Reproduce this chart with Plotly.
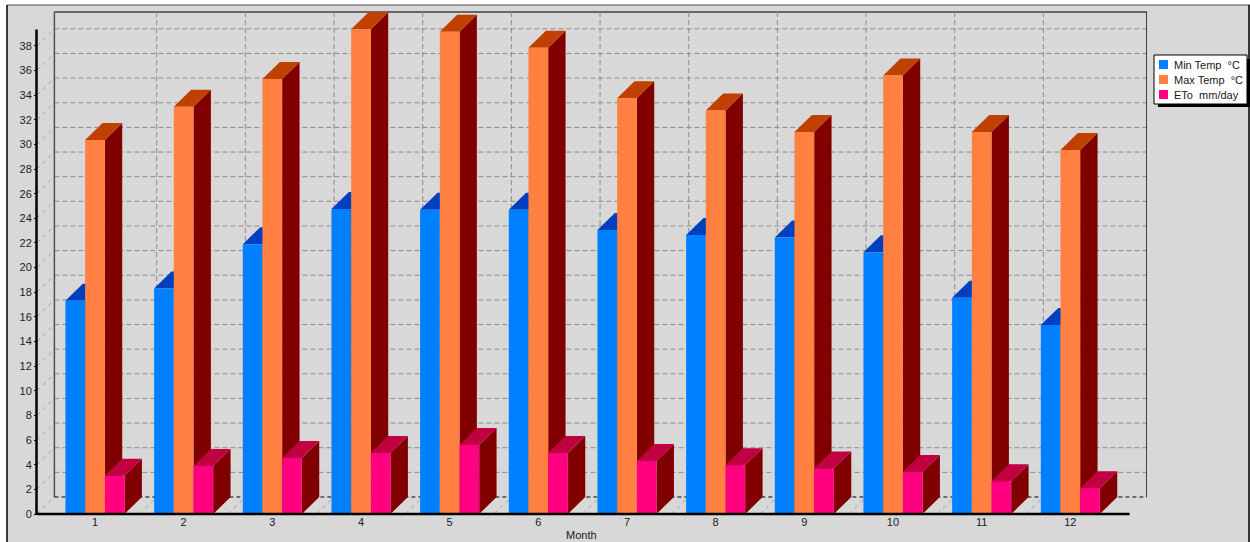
import plotly.graph_objects as go

months = list(range(1, 13))
min_temp = [17.3, 18.3, 21.9, 24.75, 24.7, 24.7, 23.05, 22.65, 22.45, 21.25, 17.55, 15.35]
max_temp = [30.35, 33.05, 35.3, 39.35, 39.15, 37.85, 33.75, 32.75, 31.0, 35.6, 31.0, 29.55]
eto = [3.1, 3.9, 4.55, 4.95, 5.6, 4.95, 4.3, 3.95, 3.7, 3.4, 2.65, 2.1]

series_names = ["Min Temp  °C", "Max Temp  °C", "ETo  mm/day"]
series_values = [min_temp, max_temp, eto]
front_colors = ["#0080FF", "#FF8040", "#FF0080"]
top_colors = ["#0040C0", "#C04000", "#C00040"]
side_color = "#800000"
y_ticks = list(range(0, 40, 2))

W, H = 1250, 542
BG = "#D8D8D8"
TEXT = "#202020"
FONT = "Liberation Sans"


def fx(px):
    return px / W


def fy(py):
    return 1 - py / H


# Pixel scale of the category and value axes, and the pseudo-3D depth offset.
CAT_STEP = 88.7
UNIT = 12.32
DX = 17.4 / CAT_STEP
DY = 17.0 / UNIT
BAR_W = 19.7 / CAT_STEP

X_FRONT_L = 1 + (37 - 95) / CAT_STEP
X_FRONT_R = 1 + (1130 - 95) / CAT_STEP
X_RANGE = [X_FRONT_L, X_FRONT_R + DX]
Y_TOP = (514 - 12) / UNIT
Y_RANGE = [0, Y_TOP]

fig = go.Figure()

# Side and top faces of every bar, built from the same values as the bars.
for s, values in enumerate(series_values):
    side_x, side_y, top_x, top_y = [], [], [], []
    for m, v in zip(months, values):
        x0 = m + (s - 1.5) * BAR_W
        x1 = x0 + BAR_W
        side_x += [x1, x1 + DX, x1 + DX, x1, x1, None]
        side_y += [0, DY, v + DY, v, 0, None]
        top_x += [x0, x1, x1 + DX, x0 + DX, x0, None]
        top_y += [v, v, v + DY, v + DY, v, None]
    for xs, ys, color in ((side_x, side_y, side_color), (top_x, top_y, top_colors[s])):
        fig.add_trace(go.Scatter(
            x=xs, y=ys, mode="lines", fill="toself", fillcolor=color,
            line=dict(width=0, color=color), hoverinfo="skip", showlegend=False,
        ))

# Front faces sit on an overlaid axis pair so they stay above the side faces.
for name, values, color in zip(series_names, series_values, front_colors):
    fig.add_trace(go.Bar(
        x=months, y=values, name=name, marker=dict(color=color, line=dict(width=0)),
        xaxis="x2", yaxis="y2", showlegend=False,
    ))

shapes = [
    dict(type="rect", xref="paper", yref="paper", x0=fx(7), x1=fx(W), y0=0, y1=fy(5),
         fillcolor=BG, line=dict(width=0), layer="below"),
    dict(type="line", xref="paper", yref="paper", x0=fx(7), x1=fx(W), y0=fy(5), y1=fy(5),
         line=dict(color="#808080", width=1.5), layer="below"),
    dict(type="line", xref="paper", yref="paper", x0=fx(7), x1=fx(7), y0=0, y1=fy(5),
         line=dict(color="#000000", width=1.5), layer="below"),
    dict(type="line", xref="paper", yref="paper", x0=fx(1249), x1=fx(1249), y0=0, y1=fy(5),
         line=dict(color="#000000", width=1.5), layer="below"),
]

grid = dict(color="#8C8C8C", width=1, dash="5px,3px")
wall = dict(color="#A0A0A0", width=1, dash="4px,4px")

# Back wall and left wall gridlines.
for v in y_ticks[1:]:
    shapes.append(dict(type="line", x0=X_FRONT_L + DX, x1=X_FRONT_R + DX, y0=v + DY, y1=v + DY,
                       line=grid, layer="below"))
    shapes.append(dict(type="line", x0=X_FRONT_L, x1=X_FRONT_L + DX, y0=v, y1=v + DY,
                       line=wall, layer="below"))

# Back wall and floor dividers between the months.
for m in months[:-1]:
    x = m + 0.5
    shapes.append(dict(type="line", x0=x + DX, x1=x + DX, y0=DY, y1=Y_TOP,
                       line=grid, layer="below"))
    shapes.append(dict(type="line", x0=x, x1=x + DX, y0=0, y1=DY, line=wall, layer="below"))
shapes.append(dict(type="line", x0=X_FRONT_L, x1=X_FRONT_L + DX, y0=0, y1=DY,
                   line=wall, layer="below"))

# Frame of the back wall.
shapes += [
    dict(type="line", x0=X_FRONT_L + DX, x1=X_FRONT_L + DX, y0=DY, y1=Y_TOP,
         line=dict(color="#505050", width=1.5), layer="below"),
    dict(type="line", xref="x", yref="paper", x0=X_FRONT_L + DX, x1=X_FRONT_R + DX,
         y0=fy(12), y1=fy(12), line=dict(color="#404040", width=1.5), layer="below"),
    dict(type="line", x0=X_FRONT_R + DX, x1=X_FRONT_R + DX, y0=DY, y1=Y_TOP,
         line=dict(color="#101010", width=1.5), layer="below"),
    dict(type="line", x0=X_FRONT_L + DX, x1=X_FRONT_R + DX, y0=DY, y1=DY,
         line=dict(color="#000000", width=1, dash="4px,3px"), layer="below"),
    # Front axis lines.
    dict(type="line", xref="x", yref="paper", x0=X_FRONT_L, x1=X_FRONT_R,
         y0=fy(514), y1=fy(514), line=dict(color="#000000", width=2.5), layer="above"),
    dict(type="line", xref="paper", yref="paper", x0=fx(36.5), x1=fx(36.5),
         y0=fy(515), y1=fy(29.5), line=dict(color="#000000", width=2.5), layer="above"),
]

# Legend box with its drop shadow.
LEG_L, LEG_R, LEG_T, LEG_B = 1154, 1247, 55, 104
shapes += [
    dict(type="rect", xref="paper", yref="paper", x0=fx(LEG_L + 4), x1=fx(LEG_R + 4),
         y0=fy(LEG_B + 3), y1=fy(LEG_T + 4), fillcolor="#000000", line=dict(width=0), layer="above"),
    dict(type="rect", xref="paper", yref="paper", x0=fx(LEG_L), x1=fx(LEG_R),
         y0=fy(LEG_B), y1=fy(LEG_T), fillcolor="#FFFFFF",
         line=dict(color="#000000", width=1), layer="above"),
]
annotations = [
    dict(xref="paper", yref="paper", x=fx(581), y=fy(535), text="Month", showarrow=False,
         xanchor="center", yanchor="middle", font=dict(family=FONT, size=11, color=TEXT)),
]
for i, (name, color) in enumerate(zip(series_names, front_colors)):
    row_y = 64.5 + 15 * i
    shapes.append(dict(type="rect", xref="paper", yref="paper", x0=fx(1159), x1=fx(1168),
                       y0=fy(row_y + 4.5), y1=fy(row_y - 4.5), fillcolor=color,
                       line=dict(width=0), layer="above"))
    annotations.append(dict(xref="paper", yref="paper", x=fx(1171.5), y=fy(row_y + 0.3),
                            text=name, showarrow=False, xanchor="left", yanchor="middle",
                            font=dict(family=FONT, size=11, color=TEXT)))

axis_common = dict(showgrid=False, zeroline=False, showline=False)
fig.update_layout(
    width=W, height=H, autosize=False,
    margin=dict(l=0, r=0, t=0, b=0),
    paper_bgcolor="#FFFFFF", plot_bgcolor="rgba(0,0,0,0)",
    barmode="group", bargap=1 - 3 * BAR_W, bargroupgap=0,
    showlegend=False,
    shapes=shapes, annotations=annotations,
    xaxis=dict(
        domain=[fx(37), fx(1147)], range=X_RANGE, tickmode="array", tickvals=months,
        ticktext=[str(m) for m in months], ticks="", anchor="y",
        tickfont=dict(family=FONT, size=11, color=TEXT),
        automargin=False, **axis_common,
    ),
    yaxis=dict(
        domain=[fy(514), fy(12)], range=Y_RANGE, tickmode="array", tickvals=y_ticks,
        ticktext=[str(v) for v in y_ticks], ticks="outside", ticklen=2, tickwidth=1,
        tickcolor="#000000", anchor="x",
        tickfont=dict(family=FONT, size=11, color=TEXT),
        automargin=False, **axis_common,
    ),
    xaxis2=dict(domain=[fx(37), fx(1147)], range=X_RANGE, overlaying="x", anchor="y2",
                visible=False, **axis_common),
    yaxis2=dict(domain=[fy(514), fy(12)], range=Y_RANGE, overlaying="y", anchor="x2",
                visible=False, **axis_common),
)

fig.write_html("out.html")
